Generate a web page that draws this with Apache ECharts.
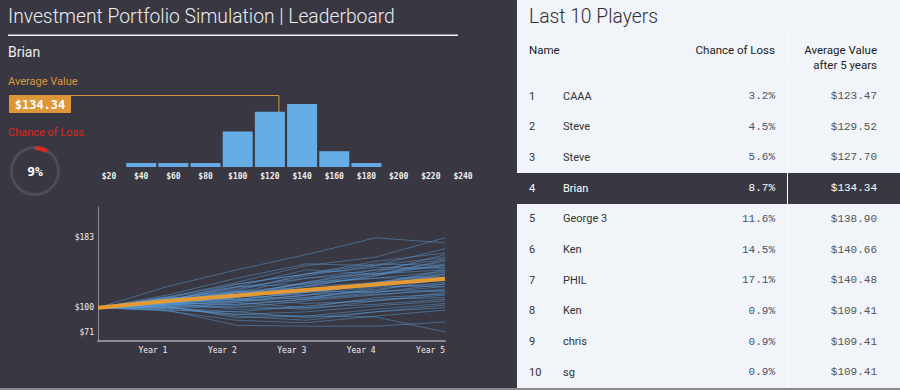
<!DOCTYPE html>
<html><head><meta charset="utf-8">
<script src="https://cdn.jsdelivr.net/npm/echarts@6/dist/echarts.min.js"></script>
<style>html,body{margin:0;padding:0;background:#393842;}#c{width:900px;height:390px;}</style>
</head><body><div id="c"></div>
<script>
// ---- data ----
const playerName = 'Brian';
const averageValue = 134.34;
const chanceOfLoss = 8.7;
const histBins = [40, 60, 80, 100, 120, 140, 160, 180];
const histCounts = [1, 1, 1, 9, 14, 16, 4, 1];
const histTickLabels = [20, 40, 60, 80, 100, 120, 140, 160, 180, 200, 220, 240];
const years = [0, 1, 2, 3, 4, 5];
const yearLabels = ['Year 1', 'Year 2', 'Year 3', 'Year 4', 'Year 5'];
const valueTicks = [71, 100, 183];
const meanPath = [100, 108, 114.5, 121, 127.5, 134.34];
const simPaths = [
  [100,125,145,163,183,177],[100,112,130,150,160,183],[100,110,122,138,150,170],
  [100,108,128,140,155,165],[100,115,135,152,150,160],[100,105,118,135,145,158],
  [100,112,125,128,140,155],[100,107,120,140,152,150],[100,110,115,125,138,152],
  [100,103,112,130,145,148],[100,108,125,145,140,145],[100,105,110,118,130,142],
  [100,113,128,140,148,147],[100,102,108,115,125,140],[100,109,118,125,130,138],
  [100,104,115,130,135,136],[100,110,120,118,128,133],[100,106,108,112,122,130],
  [100,101,104,110,118,128],[100,108,115,120,118,125],[100,103,100,108,115,122],
  [100,111,119,112,120,120],[100,99,102,98,108,118],[100,105,98,100,112,116],
  [100,107,110,105,108,115],[100,100,95,102,110,112],[100,104,106,100,104,110],
  [100,98,92,95,102,108],[100,102,88,90,98,105],[100,97,95,88,95,103],
  [100,101,90,85,95,100],[100,96,85,82,90,97],[100,100,92,90,89,71],
  [100,97,79,78,78,83],[100,106,112,122,128,145],[100,109,124,135,140,150],
  [100,104,112,126,138,157],[100,111,115,130,142,163],[100,107,118,115,130,140],
  [100,103,108,120,127,132],[100,106,103,110,124,128],[100,112,110,118,126,125],
  [100,100,106,115,120,135],[100,108,118,128,135,143],[100,105,114,110,116,120]
];
const ranks = [1,2,3,4,5,6,7,8,9,10];
const names = ['CAAA','Steve','Steve','Brian','George 3','Ken','PHIL','Ken','chris','sg'];
const losses = [3.2,4.5,5.6,8.7,11.6,14.5,17.1,0.9,0.9,0.9];
const avgValues = [123.47,129.52,127.70,134.34,138.90,140.66,140.48,109.41,109.41,109.41];
const highlightIndex = 3;

// ---- chart ----
const chart = echarts.init(document.getElementById('c'), null, {renderer:'svg', width:900, height:390});
const SANS = 'Roboto, "Open Sans", sans-serif';
const MONO = '"DejaVu Sans Mono", monospace';
const TMONO = '"Liberation Mono", monospace';

const series = [];
series.push({
  type:'bar', xAxisIndex:0, yAxisIndex:0, barWidth:30,
  data: histBins.map((b,i)=>[b, histCounts[i]]),
  itemStyle:{color:'#64ade6'}
});
simPaths.forEach(p=>{
  series.push({type:'line', xAxisIndex:1, yAxisIndex:1, symbol:'none', silent:true,
    data: years.map((y,i)=>[y,p[i]]),
    lineStyle:{width:1, color:'rgba(92,155,215,0.5)'}});
});
series.push({type:'line', xAxisIndex:1, yAxisIndex:1, symbol:'none', silent:true, z:5,
  data: years.map((y,i)=>[y,meanPath[i]]),
  lineStyle:{width:4, color:'#e49b35'}});
series.push({
  type:'gauge', center:[35,171], radius:25, startAngle:90, endAngle:-270, min:0, max:100,
  pointer:{show:false}, progress:{show:true, width:4, itemStyle:{color:'#d92b22'}},
  axisLine:{lineStyle:{width:3, color:[[1,'#4d4c57']]}},
  axisTick:{show:false}, splitLine:{show:false}, axisLabel:{show:false}, title:{show:false},
  detail:{formatter:v=>Math.round(v)+'%', offsetCenter:[0,0], color:'#fff', fontSize:13, fontWeight:'bold', fontFamily:MONO},
  data:[{value:chanceOfLoss}]
});

chart.setOption({
  animation:false,
  backgroundColor:'#393842',
  grid:[
    {left:109, right:437, top:100, bottom:223},
    {left:98, right:455, top:207, bottom:49}
  ],
  xAxis:[
    {gridIndex:0, type:'value', min:20, max:240, interval:20,
     axisLine:{show:false}, axisTick:{show:false}, splitLine:{show:false},
     axisLabel:{formatter:v=>'$'+v, color:'#f0f0f0', fontFamily:MONO, fontSize:8, fontWeight:'bold', margin:5, showMinLabel:true, showMaxLabel:true}},
    {gridIndex:1, type:'value', min:0, max:5,
     axisLine:{lineStyle:{color:'#8d8c95', width:2}}, axisTick:{show:false}, splitLine:{show:false},
     axisLabel:{customValues:[1,2,3,4,5], formatter:v=>yearLabels[v-1], align:'right', color:'#f0f0f0', fontFamily:MONO, fontSize:8, margin:5}}
  ],
  yAxis:[
    {gridIndex:0, type:'value', min:0, max:17, show:false},
    {gridIndex:1, type:'value', min:60.35, max:219.6,
     axisLine:{show:true, lineStyle:{color:'#8d8c95', width:1}}, axisTick:{show:false}, splitLine:{show:false},
     axisLabel:{customValues:valueTicks, formatter:v=>'$'+v, color:'#f0f0f0', fontFamily:MONO, fontSize:8, margin:4}}
  ],
  series: series
});

// ---- graphics ----
const avgX = chart.convertToPixel({xAxisIndex:0}, averageValue - 10) + 2;
const baseY = chart.convertToPixel({yAxisIndex:0}, 0);
const els = [];
function txt(t, x, y, o){
  els.push({type:'text', silent:true, z:10, style:Object.assign({text:t, x:x, y:y, textVerticalAlign:'middle', textAlign:'left', fill:'#eee', font:'12px '+SANS}, o||{})});
}
// left panel texts
txt('Investment Portfolio Simulation | Leaderboard', 8, 16, {font:'300 19.3px '+SANS, fill:'#ececf0'});
els.push({type:'rect', silent:true, shape:{x:8, y:34.5, width:450, height:1.5}, style:{fill:'#f2f2f2'}});
txt(playerName, 8, 52, {font:'14px '+SANS, fill:'#eeeeee'});
txt('Average Value', 8, 81, {font:'11px '+SANS, fill:'#d9963a'});
els.push({type:'polyline', silent:true, shape:{points:[[71,95.5],[avgX,95.5],[avgX,baseY]]}, style:{stroke:'#d9963a', lineWidth:1, fill:null}});
els.push({type:'rect', silent:true, shape:{x:9, y:95, width:62, height:18}, style:{fill:'#de9638'}});
txt('$'+averageValue.toFixed(2), 40, 104.5, {textAlign:'center', font:'bold 12px '+MONO, fill:'#ffffff'});
txt('Chance of Loss', 8, 132, {font:'11px '+SANS, fill:'#d7281f'});

// right panel
els.push({type:'rect', silent:true, z:1, shape:{x:517, y:0, width:383, height:388}, style:{fill:'#f1f4f8'}});
els.push({type:'rect', silent:true, z:1, shape:{x:0, y:388, width:900, height:2}, style:{fill:'#8a8990'}});
txt('Last 10 Players', 529, 16, {font:'300 19.3px '+SANS, fill:'#2e2e36'});
txt('Name', 529, 50, {font:'11.5px '+SANS, fill:'#1c1c22'});
txt('Chance of Loss', 775, 50, {textAlign:'right', font:'11.5px '+SANS, fill:'#1c1c22'});
txt('Average Value', 877, 50, {textAlign:'right', font:'11.5px '+SANS, fill:'#1c1c22'});
txt('after 5 years', 877, 65, {textAlign:'right', font:'11.5px '+SANS, fill:'#1c1c22'});
const rowH = 30.7, row0 = 96;
ranks.forEach((r,i)=>{
  const y = row0 + i*rowH;
  const hl = i===highlightIndex;
  if(hl){ els.push({type:'rect', silent:true, z:2, shape:{x:517, y:y-15, width:383, height:31}, style:{fill:'#393842'}}); }
  txt(String(r), 529, y, {font:'11px '+SANS, fill: hl?'#fff':'#333'});
  txt(names[i], 563, y, {font:'11px '+SANS, fill: hl?'#fff':'#333'});
  txt(losses[i].toFixed(1)+'%', 775, y, {textAlign:'right', font:'11px '+TMONO, fill: hl?'#fff':'#48526c'});
  txt('$'+avgValues[i].toFixed(2), 877, y, {textAlign:'right', font:'11px '+TMONO, fill: hl?'#fff':'#555'});
});
els.push({type:'rect', silent:true, z:3, shape:{x:787, y:35, width:1, height:31}, style:{fill:'#ffffff'}});
els.push({type:'rect', silent:true, z:3, shape:{x:787, y:80, width:1, height:308}, style:{fill:'#ffffff'}});

chart.setOption({graphic:{elements:els}});
</script></body></html>
